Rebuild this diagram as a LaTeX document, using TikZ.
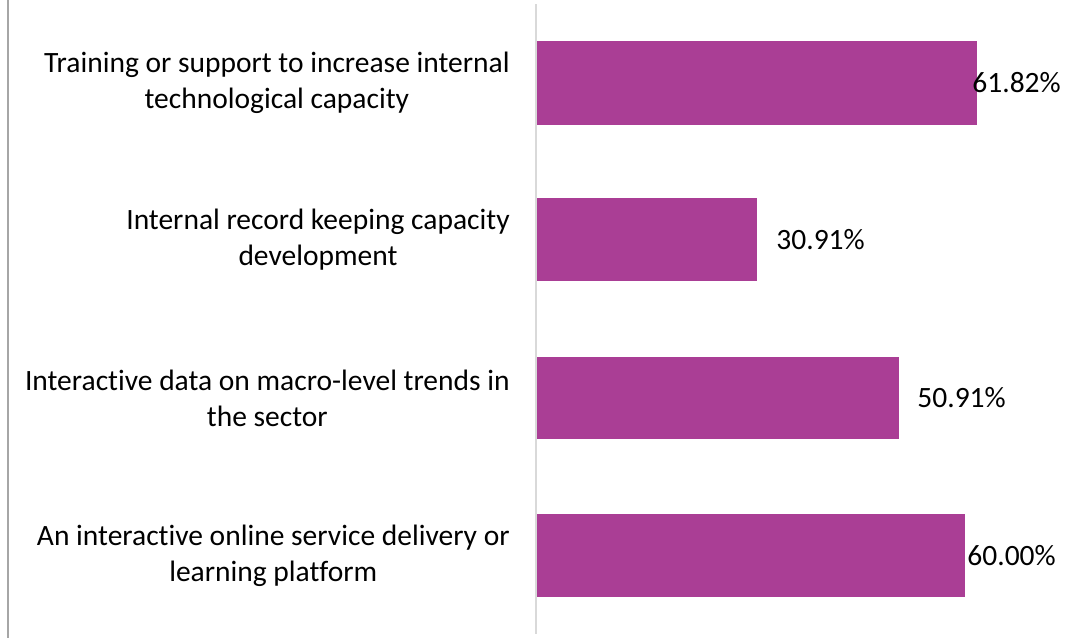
\documentclass[tikz,border=0pt]{standalone}
\usepackage{fontspec}
\setmainfont{Carlito}[Ligatures={NoCommon,NoRare}]
\usepackage{xcolor}
\usepackage{tikz}
\usetikzlibrary{positioning}

\definecolor{barpurple}{RGB}{170,62,149}
\definecolor{axisgray}{RGB}{217,217,217}
\definecolor{framegray}{RGB}{166,166,166}

\begin{document}
\begin{tikzpicture}[
    x=0.5pt, y=-0.5pt,
    bar/.style={fill=barpurple},
    catlabel/.style={anchor=east, align=center, inner sep=0pt, font=\fontsize{14.75pt}{17.9pt}\selectfont},
    vallabel/.style={anchor=west, inner sep=0pt, font=\fontsize{14.75pt}{17.9pt}\selectfont}
]
\useasboundingbox (0,0) rectangle (1079,638);

% Frame and axis
\draw[framegray, line width=0.75pt] (8,0) -- (8,638);
\draw[axisgray, line width=1pt] (536,4) -- (536,634);

% Bars
\fill[bar] (537,41) rectangle (977,125);
\fill[bar] (537,198) rectangle (757,281);
\fill[bar] (537,357) rectangle (899,439);
\fill[bar] (537,514) rectangle (965,597);

% Categories
\node[catlabel] (c1) at (510,83) {Training or support to increase internal\\technological capacity};
\node[catlabel] (c2) at (510,240) {Internal record keeping capacity\\development};
\node[catlabel] (c3) at (510,398) {Interactive data on macro-level trends in\\the sector};
\node[catlabel] (c4) at (510,556) {An interactive online service delivery or\\learning platform};

% Values
\node[vallabel] (v1) at (972,83) {61.82\%};
\node[vallabel] (v2) at (776,240) {30.91\%};
\node[vallabel] (v3) at (917,398) {50.91\%};
\node[vallabel] (v4) at (967,556) {60.00\%};

\end{tikzpicture}
\end{document}
